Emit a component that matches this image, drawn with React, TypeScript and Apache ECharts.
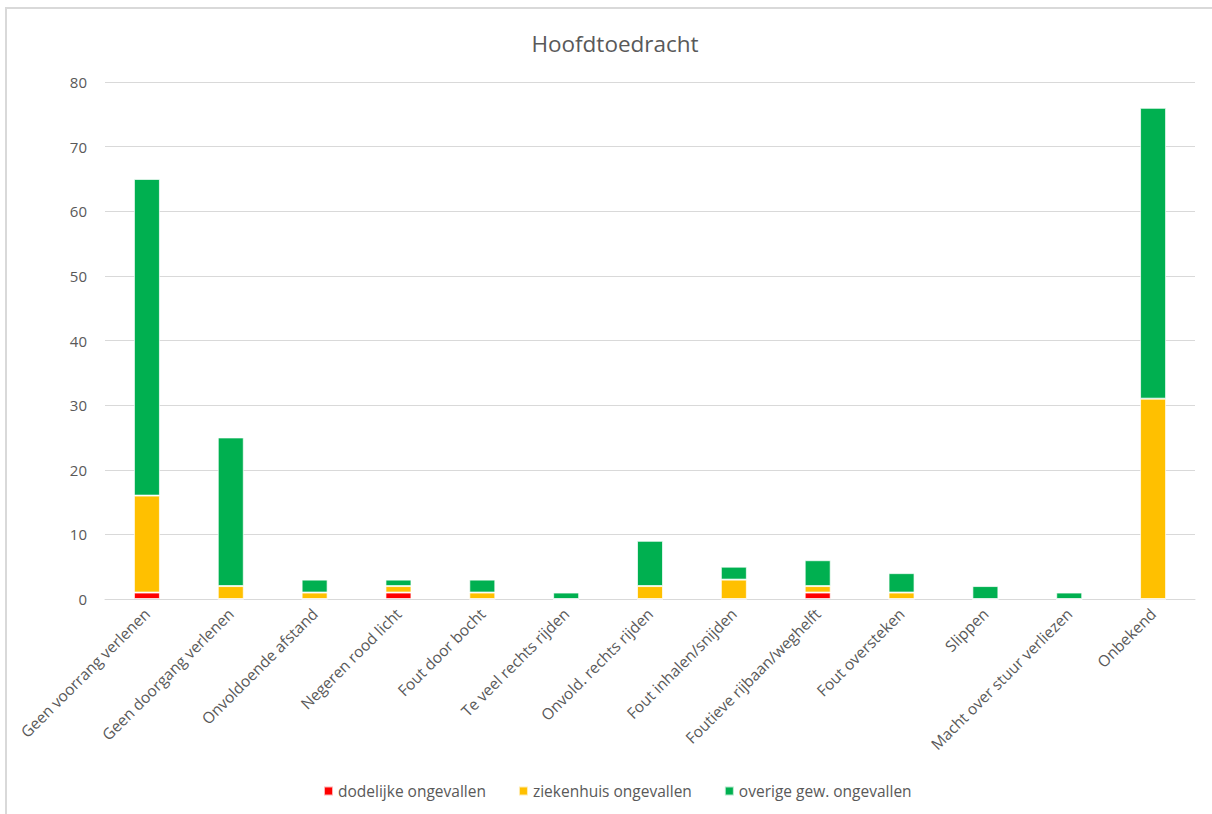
import React, { useEffect, useRef } from "react";
import * as echarts from "echarts";

const categories = [
  "Geen voorrang verlenen",
  "Geen doorgang verlenen",
  "Onvoldoende afstand",
  "Negeren rood licht",
  "Fout door bocht",
  "Te veel rechts rijden",
  "Onvold. rechts rijden",
  "Fout inhalen/snijden",
  "Foutieve rijbaan/weghelft",
  "Fout oversteken",
  "Slippen",
  "Macht over stuur verliezen",
  "Onbekend",
];
const dodelijk = [1, 0, 0, 1, 0, 0, 0, 0, 1, 0, 0, 0, 0];
const ziekenhuis = [15, 2, 1, 1, 1, 0, 2, 3, 1, 1, 0, 0, 31];
const overige = [49, 23, 2, 1, 2, 1, 7, 2, 4, 3, 2, 1, 45];

const FONT = "'Open Sans', 'Noto Sans', sans-serif";
const TXT = "#595959";

export default function App() {
  const ref = useRef<HTMLDivElement>(null);
  useEffect(() => {
    const chart = echarts.init(ref.current!, null, { renderer: "svg" });
    const mk = (name: string, data: number[], color: string) => ({
      name,
      type: "bar",
      stack: "total",
      data,
      barWidth: 26,
      itemStyle: { color, borderColor: "rgba(255,255,255,0.7)", borderWidth: 1 },
    });
    chart.setOption({
      animation: false,
      backgroundColor: "#ffffff",
      textStyle: { fontFamily: FONT },
      graphic: [
        {
          type: "rect",
          shape: { x: 6, y: 8, width: 1400, height: 1000 },
          style: { fill: "none", stroke: "#d9d9d9", lineWidth: 2 },
          silent: true,
        },
      ],
      title: {
        text: "Hoofdtoedracht",
        left: 610,
        textAlign: "center",
        top: 27,
        textStyle: { color: TXT, fontSize: 22.5, fontWeight: "normal", fontFamily: FONT },
      },
      legend: {
        bottom: 10,
        left: 318,
        itemWidth: 9,
        itemHeight: 9,
        itemGap: 32,
        icon: "rect",
        textStyle: { color: TXT, fontSize: 15.5, fontFamily: FONT },
        data: ["dodelijke ongevallen", "ziekenhuis ongevallen", "overige gew. ongevallen"],
      },
      grid: { left: 105, right: 17, top: 82, bottom: 215, containLabel: false },
      xAxis: {
        type: "category",
        data: categories,
        axisLine: { lineStyle: { color: "#d9d9d9", width: 1 } },
        axisTick: { show: false },
        axisLabel: {
          rotate: 45,
          interval: 0,
          color: TXT,
          fontSize: 15.5,
          fontFamily: FONT,
          margin: 12,
        },
      },
      yAxis: {
        type: "value",
        min: 0,
        max: 80,
        interval: 10,
        axisLine: { show: false },
        axisTick: { show: false },
        splitLine: { lineStyle: { color: "#d9d9d9", width: 1 } },
        axisLabel: { color: TXT, fontSize: 15, fontFamily: FONT, margin: 18 },
      },
      series: [
        mk("dodelijke ongevallen", dodelijk, "#ff0000"),
        mk("ziekenhuis ongevallen", ziekenhuis, "#ffc000"),
        mk("overige gew. ongevallen", overige, "#00b050"),
      ],
    });
    return () => chart.dispose();
  }, []);
  return (
    <div
      ref={ref}
      style={{ position: "absolute", left: 0, top: 0, width: 1212, height: 814 }}
    />
  );
}
